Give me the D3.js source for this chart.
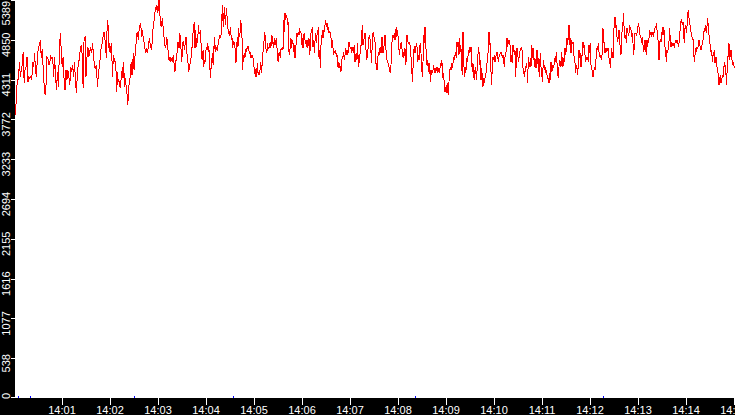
<!DOCTYPE html>
<html>
<head>
<meta charset="utf-8">
<script src="https://cdn.jsdelivr.net/npm/d3@7"></script>
<style>
  body { margin: 0; background: #fff; }
  svg { display: block; }
  text { font-family: "Liberation Sans", Arial, sans-serif; font-size: 11px; fill: #fff; }
</style>
</head>
<body>
<svg id="chart"></svg>
<script>
// readings, one array per ~112 s stretch of the recording
const values1 = [3832,4170,4306,4306,4554,4351,4441,4509,4689,4261,4464,4486,4622,4283,4351,4328,4351,4306,4554,4486,4667,4419,4351,4644,4735,4780,4847,4599,4721,4464,4238,4103,4238,4622,4599,4509,4554,4622,4599,4613,4351,4622,4373,4170,4419,4216,4667,4938,4712,4486,4622,4306,4170,4441,4306,4441,4351,4238,4486,4419,4509,4351,4554,4261,4125,4419,4509,4599,4712,4780,4644,4193,4870,4893,4351,4599,4757,4622,4689,4757,4667,4802,4622,4486,4464,4509,4216,4373,4486,4599,4757,4802,4893,4960];
const values2 = [4847,4735,4599,5005,5118,4938,4689,4802,4667,4802,4599,4351,4644,4554,4599,4532,4419,4148,4419,4283,4306,4261,4193,4306,4351,4486,4328,4554,4216,4328,4261,4193,4103,3967,4170,4261,4306,4486,4554,4373,4532,4667,4441,4554,4780,4802,4938,4960,4847,4960,5028,5073,5005,4893,4983,4893,4847,4780,4712,4667,4735,4667,4712,4780,4870,4802,4757,4712,4802,4983,5028,5118,5208,5299,5254,5321,5208,5254,5389,5208,5141,5028,5073,5141,5005,4893,4847,4735,4757,4893,4825,4712,4577,4599,4554,4622,4577,4554,4599,4644,4486,4419,4532,4599,4667,4802,4825,4735,4938,4870,4689,4554,4802,4825,4780,4712,4825,4893,4757,4554,4532,4419,4486,4532,4554,4757,4735,4938,5005,5096];
const values3 = [4735,4983,4757,4870,4802,5051,4960,4938,4983,4802,4599,4577,4712,4486,4577,4554,4689,4757,4712,4802,4689,4712,4509,4328,4486,4577,4667,4509,4712,4893,4689,4757,4735,4712,4757,4847,4870,4915,4870,4938,5163,5321,5028,5186,5299,5051,5163,5276,5118,5005,4938,4915,4960,5028,4847,4893,4735,4802,4825,4802,4689,4532,4735,4893,4757,5005,4893,4938,5118,5051,4870,4441,4644,4599,4644,4622,4735,4689,4757,4757,4712,4667,4689,4599,4644,4599,4644,4554,4464,4419,4351,4464,4351,4532,4373,4419,4373,4464,4554,4396,4532,4667,4735,4870,4960,4780,4712,4667,4802,4735,4735,4757,4825,4735,4915,4893,4802,4735,4870,4780,4802,4870,4757,4577,4554,4667,4689,4599,4712,4712,4757,4712,5118,4960];
const values4 = [5208,5118,5186,5141,5073,5096,4689,4644,4802,4870,4735,4847,4802,4689,4780,4599,4689,4870,4938,4893,4960,4915,4983,4960,4938,4780,4870,4735,4915,4938,4847,4825,4757,4847,4735,4802,4870,4644,4757,4938,4960,5028,4757,4847,4667,4825,4938,4802,4915,4938,5028,4622,4712,4464,4780,4847,4983,4870,4983,4960,5051,5118,5028,5073,4983,5005,4938,4960,4938,4870,4735,4847,4735,4644,4689,4667,4712,4622,4644,4486,4554,4464,4509,4486,4419,4554,4622,4622,4689,4577,4644,4735,4644,4712,4667,4689,4825,4780,4735,4757,4689,4712,4757,4667,4780,4554,4644,4667,4577,4802,4486,4599,4532,4780,4757,4893,5051,4780,4802,4915,4938,4870,4577,4689,4599,4847,4893,4915,4802,4667,4532,4870,4938,4960,4825];
const values5 = [4825,4554,4509,4441,4599,4667,4644,4712,4757,4667,4893,4870,4667,4735,4802,4915,4780,4644,4577,4554,4509,4486,4441,4396,4509,4735,4893,4915,4870,4938,4847,4960,5028,4893,4983,4825,4712,4644,4802,4735,4825,4622,4689,4599,4667,4735,4509,4599,4915,4847,4802,4825,4802,4757,4622,4486,4283,4464,4712,4735,4667,4735,4802,4757,4554,4644,4577,4757,4802,4667,4486,4351,4554,4915,4802,5028,4802,4644,4509,4577,4419,4532,4509,4283,4441,4373,4419,4441,4509,4396,4464,4419,4441,4486,4396,4464,4419,4396,4532,4486,4577,4486,4328,4396,4216,4148,4170,4238,4125,4261,4103,4283,4419,4486,4441,4509,4486,4532,4622,4577,4644,4667,4599,4825,4757,4825,4644,4870,4689,4735,4486,4373,4960,4644,4351];
const values6 = [4396,4486,4441,4599,4554,4712,4667,4735,4712,4757,4554,4419,4532,4373,4306,4441,4486,4306,4419,4532,4757,4689,4509,4577,4306,4464,4351,4216,4328,4261,4328,4351,4441,4532,4577,4757,4960,4780,4802,4419,4238,4532,4622,4577,4644,4554,4622,4644,4689,4599,4577,4622,4644,4667,4689,4667,4599,4644,4554,4486,4622,4667,4712,4870,4757,4825,4847,4802,4757,4554,4644,4532,4780,4735,4644,4712,4351,4577,4735,4689,4554,4599,4689,4712,4735,4757,4667,4464,4396,4373,4419,4486,4509,4464,4261,4622,4554,4486,4599,4486,4780,4599,4735,4667,4486,4599,4464,4486,4712,4622,4419,4599,4351,4667,4486,4419,4283,4464,4577,4441,4486,4396,4441,4373,4328,4328,4261,4396,4306,4554,4419,4441,4509,4486,4532];
const values7 = [4599,4554,4689,4532,4396,4328,4486,4577,4554,4486,4689,4554,4486,4599,4554,4735,4644,4712,4870,4780,4915,5051,4780,4870,4667,4847,4802,4825,4644,4622,4532,4396,4509,4464,4373,4532,4712,4599,4667,4486,4554,4712,4825,4735,4780,4644,4554,4622,4577,4622,4554,4780,4667,4802,4509,4486,4396,4351,4419,4464,4441,4554,4622,4735,4712,4802,4689,4644,4599,4644,4577,4712,5005,4802,4825,4667,4735,4689,4735,4712,4735,4599,4577,4464,4599,4735,4644,4599,4983,5028,5163,5005,5051,4893,4847,4870,4983,4802,4757,4644,4847,5051,5096,5208,4870,4915,4915,4802,5005,4960,4915,4938,5051,5005,4983,4915,4938,4802,4644,4780,4938,4938,4915,4938,4983,5073,5028,4938,4893,4870,4802,4893,4780,4689,4735];
const values8 = [4847,4735,4644,4847,4757,4847,4870,4983,4915,4960,4893,4938,4960,4893,4983,5005,5028,5051,4983,4893,4802,4577,4825,4847,4825,4870,5028,4915,5028,4938,4757,4689,4554,4712,4689,4735,4825,5005,4825,4757,4825,4780,4802,4780,4757,4802,4847,4802,4847,4825,4757,4802,4893,5028,5096,5118,5051,5096,4938,4802,5005,5051,4938,5028,5186,5254,5141,5073,5028,4960,4938,4847,4870,4689,4554,4644,4735,4712,4757,4735,4780,4847,4802,4735,4712,4757,4802,4847,4938,5005,4960,5051,4938,5028,5141,5028,4915,4802,4780,4689,4712,4554,4644,4644,4712,4532,4599,4622,4486,4464,4351,4238,4328,4373,4261,4283,4373,4351,4419,4554,4486,4509,4238,4396,4577,4667,4802,4577,4644,4712,4599,4554,4509,4532,4464];

const segments = [values1, values2, values3, values4, values5, values6, values7, values8];
// start of each stretch, seconds after 14:00:00, and its length
const segmentStart = [2, 113.75, 226.25, 338.75, 451.25, 563.75, 676.25, 788.75];
const segmentLength = 112.5;

// blue marks sitting on the zero line, seconds after 14:00:00
const eventSeconds = [5, 20, 150, 274, 501, 736];

const yTickValues = [0, 538, 1077, 1616, 2155, 2694, 3233, 3772, 4311, 4850, 5389];
const xTickLabels = ["14:01","14:02","14:03","14:04","14:05","14:06","14:07","14:08","14:09","14:10","14:11","14:12","14:13","14:14","14:15"];

const width = 735, height = 415;
const padding = {left: 14, right: 1, top: 0, bottom: 17};
const yMax = 5389;

const base = new Date(2000, 0, 1, 14, 0, 0);
const parseTime = d3.timeParse("%Y-%m-%d %H:%M");
const atSeconds = s => new Date(+base + s * 1000);

const points = [];
segments.forEach(function(vals, k) {
  const step = (k === 0 ? segmentStart[1] - segmentStart[0] : segmentLength) / vals.length;
  vals.forEach(function(v, i) {
    points.push({t: atSeconds(segmentStart[k] + i * step), v: v});
  });
});

const x = d3.scaleTime()
  .domain([base, atSeconds(15 * 60)])
  .range([padding.left, width - padding.right]);
const y = d3.scaleLinear()
  .domain([0, yMax])
  .range([height - padding.bottom, padding.top]);

const svg = d3.select("#chart")
  .attr("width", width)
  .attr("height", height);

svg.append("rect")
  .attr("width", width).attr("height", height)
  .attr("fill", "#fff");

svg.append("clipPath").attr("id", "plot")
  .append("rect")
  .attr("x", 15).attr("y", 0)
  .attr("width", width - 15).attr("height", y(0));

const line = d3.line()
  .x(d => x(d.t))
  .y(d => y(d.v));

svg.append("path")
  .datum(points)
  .attr("clip-path", "url(#plot)")
  .attr("d", line)
  .attr("fill", "none")
  .attr("stroke", "#ff0000")
  .attr("stroke-width", 1)
  .attr("shape-rendering", "crispEdges");

svg.selectAll(".event")
  .data(eventSeconds)
  .enter().append("rect")
  .attr("class", "event")
  .attr("x", d => Math.round(x(atSeconds(d))))
  .attr("y", y(0) - 2)
  .attr("width", 1)
  .attr("height", 2)
  .attr("fill", "#0000ff");

// black frame bands
svg.append("rect")
  .attr("x", 0).attr("y", 0)
  .attr("width", 15).attr("height", height)
  .attr("fill", "#000");
svg.append("rect")
  .attr("x", 0).attr("y", y(0))
  .attr("width", width).attr("height", height - y(0))
  .attr("fill", "#000");

// y axis
const yAxis = svg.append("g");
yAxis.selectAll("line")
  .data(yTickValues)
  .enter().append("line")
  .attr("x1", 11).attr("x2", 15)
  .attr("y1", d => Math.min(Math.round(y(d)), 397) + 0.5)
  .attr("y2", d => Math.min(Math.round(y(d)), 397) + 0.5)
  .attr("stroke", "#fff")
  .attr("shape-rendering", "crispEdges");
yAxis.selectAll("text")
  .data(yTickValues)
  .enter().append("text")
  .text(d => String(d))
  .attr("text-anchor", "middle")
  .each(function(d) {
    const len = this.getComputedTextLength();
    const c = Math.max(len / 2 + 1, Math.min(y(d) + 5, y(0) + 1 - len / 2));
    d3.select(this).attr("transform", "translate(10," + c + ") rotate(-90)");
  });

// x axis
const xTicks = xTickLabels.map(s => parseTime("2000-01-01 " + s));
const xAxis = svg.append("g");
xAxis.selectAll("line")
  .data(xTicks)
  .enter().append("line")
  .attr("x1", d => Math.round(x(d)) + 0.5)
  .attr("x2", d => Math.round(x(d)) + 0.5)
  .attr("y1", y(0)).attr("y2", y(0) + 7)
  .attr("stroke", "#fff")
  .attr("shape-rendering", "crispEdges");
xAxis.selectAll("text")
  .data(xTicks)
  .enter().append("text")
  .text(d => d3.timeFormat("%H:%M")(d))
  .attr("x", d => x(d))
  .attr("y", 414)
  .attr("text-anchor", "middle");
</script>
</body>
</html>
